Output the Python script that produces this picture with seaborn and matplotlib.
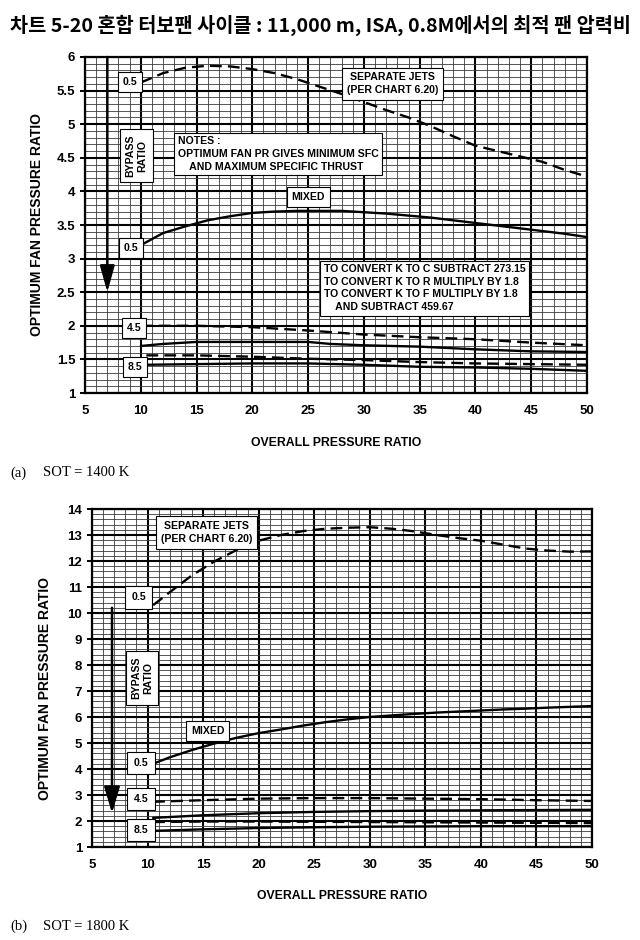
import numpy as np
import pandas as pd
import seaborn as sns
import matplotlib
matplotlib.use("Agg")
import matplotlib.pyplot as plt
from matplotlib.ticker import MultipleLocator, FormatStrFormatter

# ---------------- data ----------------
title_text = "차트 5-20 혼합 터보팬 사이클 : 11,000 m, ISA, 0.8M에서의 최적 팬 압력비"
x_ticks = [5, 10, 15, 20, 25, 30, 35, 40, 45, 50]

# (a) SOT = 1400 K
xa_main = [10, 12, 14, 16, 18, 20, 22, 24, 26, 28, 30, 32, 34, 36, 38, 40, 42, 44, 46, 48, 50]
ya_sep05 = [5.62, 5.76, 5.84, 5.87, 5.86, 5.82, 5.76, 5.67, 5.56, 5.45, 5.33, 5.21, 5.10,
            4.97, 4.82, 4.68, 4.60, 4.52, 4.44, 4.32, 4.22]
ya_mix05 = [3.20, 3.38, 3.48, 3.57, 3.63, 3.68, 3.70, 3.71, 3.71, 3.71, 3.69, 3.67, 3.64,
            3.61, 3.57, 3.53, 3.49, 3.45, 3.41, 3.37, 3.32]
xa_sep45 = [10, 15, 20, 25, 30, 35, 40, 45, 50]
ya_sep45 = [2.00, 2.00, 1.98, 1.93, 1.87, 1.83, 1.80, 1.75, 1.71]
xa_mix45 = [10, 12, 15, 20, 25, 27, 30, 35, 40, 45, 50]
ya_mix45 = [1.70, 1.73, 1.76, 1.76, 1.76, 1.73, 1.71, 1.69, 1.65, 1.62, 1.61]
xa_85 = [10.5, 15, 20, 25, 30, 35, 40, 45, 50]
ya_sep85 = [1.56, 1.56, 1.54, 1.51, 1.49, 1.46, 1.44, 1.43, 1.42]
ya_mix85 = [1.42, 1.43, 1.44, 1.44, 1.42, 1.39, 1.38, 1.36, 1.33]

# (b) SOT = 1800 K
xb_main = [10.5, 12, 14, 16, 18, 20, 22, 24, 26, 28, 30, 32, 34, 36, 38, 40, 42, 44, 46, 48, 50]
yb_sep05 = [10.3, 10.8, 11.45, 11.98, 12.42, 12.78, 13.0, 13.15, 13.24, 13.28, 13.30, 13.24,
            13.14, 13.0, 12.88, 12.78, 12.63, 12.48, 12.40, 12.36, 12.37]
yb_mix05 = [4.20, 4.45, 4.73, 4.98, 5.20, 5.38, 5.52, 5.67, 5.80, 5.91, 6.00, 6.06, 6.12,
            6.17, 6.21, 6.25, 6.29, 6.32, 6.36, 6.39, 6.42]
xb_low = [10.5, 15, 20, 25, 30, 35, 40, 45, 50]
yb_sep45 = [2.74, 2.80, 2.86, 2.88, 2.88, 2.86, 2.84, 2.80, 2.77]
yb_mix45 = [2.12, 2.22, 2.30, 2.35, 2.38, 2.40, 2.41, 2.42, 2.43]
yb_sep85 = [1.96, 1.98, 1.98, 1.97, 1.96, 1.95, 1.94, 1.93, 1.92]
yb_mix85 = [1.62, 1.68, 1.73, 1.76, 1.78, 1.79, 1.80, 1.80, 1.80]

# ---------------- style ----------------
sns.set_theme(style="white")
plt.rcParams['font.family'] = ['Liberation Sans', 'DejaVu Sans']

fig = plt.figure(figsize=(6.4, 9.4), dpi=100)
ax1 = fig.add_axes([85 / 640, 1 - 393 / 940, 502 / 640, 336 / 940])
ax2 = fig.add_axes([92 / 640, 1 - 847 / 940, 500 / 640, 338 / 940])

FS = 7.6
box_kw = dict(boxstyle="square,pad=0.45", fc="white", ec="black", lw=0.8)


def draw_line(ax, x, y, dashed):
    df = pd.DataFrame({"x": x, "y": y})
    kw = dict(color="black", lw=1.7, zorder=4)
    if dashed:
        kw["linestyle"] = (0, (5, 2.6))
    sns.lineplot(data=df, x="x", y="y", ax=ax, **kw)


def style_axes(ax, ymin, ymax, ymajor, yminor, yfmt, xlab_y, ylab_x, ylab_y):
    ax.set_xlim(5, 50)
    ax.set_ylim(ymin, ymax)
    ax.set_xticks(x_ticks)
    ax.xaxis.set_minor_locator(MultipleLocator(1))
    ax.yaxis.set_major_locator(MultipleLocator(ymajor))
    ax.yaxis.set_minor_locator(MultipleLocator(yminor))
    ax.yaxis.set_major_formatter(FormatStrFormatter(yfmt))
    ax.grid(which="major", color="black", lw=1.5, zorder=1)
    ax.grid(which="minor", color="#3a3a3a", lw=0.6, zorder=1)
    ax.set_axisbelow(True)
    for s in ax.spines.values():
        s.set_color("black")
        s.set_linewidth(1.6)
    ax.tick_params(axis="x", which="major", length=0, pad=9, labelsize=9.5, colors="black")
    ax.tick_params(axis="y", which="major", length=3.6, width=1.4, pad=3.5,
                   labelsize=9.5, colors="black", left=True)
    ax.tick_params(which="minor", length=0)
    for lab in ax.get_xticklabels() + ax.get_yticklabels():
        lab.set_fontweight("bold")
    ax.set_xlabel("OVERALL PRESSURE RATIO", fontsize=8.8, fontweight="bold", color="black")
    ax.xaxis.set_label_coords(0.5, xlab_y)
    ax.set_ylabel("OPTIMUM FAN PRESSURE RATIO", fontsize=10, fontweight="bold", color="black")
    ax.yaxis.set_label_coords(ylab_x, ylab_y)


def label(ax, x, y, s, rot=0, ha="center", pad=0.45, ls=1.35):
    kw = dict(box_kw)
    kw["boxstyle"] = "square,pad=%g" % pad
    ax.text(x, y, s, fontsize=FS, fontweight="bold", ha=ha, va="center", rotation=rot,
            bbox=kw, zorder=6, linespacing=ls, color="black")


# ---------------- (a) ----------------
style_axes(ax1, 1, 6, 0.5, 0.1, "%g", -0.131, -0.082, 0.5)
draw_line(ax1, xa_main, ya_sep05, True)
draw_line(ax1, xa_main, ya_mix05, False)
draw_line(ax1, xa_sep45, ya_sep45, True)
draw_line(ax1, xa_mix45, ya_mix45, False)
draw_line(ax1, xa_85, ya_sep85, True)
draw_line(ax1, xa_85, ya_mix85, False)

ax1.annotate("", xy=(7, 2.5), xytext=(7, 6.0),
             arrowprops=dict(arrowstyle="-|>,head_length=1.0,head_width=0.28",
                             color="black", lw=1.8, mutation_scale=16, shrinkA=0, shrinkB=0),
             zorder=5)

label(ax1, 9.0, 5.63, "0.5")
label(ax1, 32.6, 5.6, "SEPARATE JETS\n(PER CHART 6.20)", ls=1.4)
label(ax1, 9.6, 4.53, "BYPASS\nRATIO", rot=90, ls=1.25, pad=0.5)
label(ax1, 13.3, 4.556, "NOTES :\nOPTIMUM FAN PR GIVES MINIMUM SFC\n    AND MAXIMUM SPECIFIC THRUST",
      ha="left", pad=0.35, ls=1.33)
label(ax1, 25.0, 3.92, "MIXED")
label(ax1, 9.1, 3.16, "0.5")
label(ax1, 26.43, 2.56, "TO CONVERT K TO C SUBTRACT 273.15\nTO CONVERT K TO R MULTIPLY BY 1.8\n"
      "TO CONVERT K TO F MULTIPLY BY 1.8\n    AND SUBTRACT 459.67", ha="left", pad=0.35, ls=1.33)
label(ax1, 9.4, 1.97, "4.5")
label(ax1, 9.5, 1.39, "8.5")

# ---------------- (b) ----------------
style_axes(ax2, 1, 14, 1, 0.2, "%g", -0.127, -0.08, 0.47)
draw_line(ax2, xb_main, yb_sep05, True)
draw_line(ax2, xb_main, yb_mix05, False)
draw_line(ax2, xb_low, yb_sep45, True)
draw_line(ax2, xb_low, yb_mix45, False)
draw_line(ax2, xb_low, yb_sep85, True)
draw_line(ax2, xb_low, yb_mix85, False)

ax2.annotate("", xy=(6.8, 2.3), xytext=(6.8, 10.2),
             arrowprops=dict(arrowstyle="-|>,head_length=1.0,head_width=0.3",
                             color="black", lw=1.8, mutation_scale=16, shrinkA=0, shrinkB=0),
             zorder=5)

label(ax2, 15.3, 13.1, "SEPARATE JETS\n(PER CHART 6.20)", ls=1.4)
label(ax2, 9.2, 10.6, "0.5", pad=0.6)
label(ax2, 9.5, 7.5, "BYPASS\nRATIO", rot=90, ls=1.25, pad=0.5)
label(ax2, 15.4, 5.46, "MIXED")
label(ax2, 9.4, 4.23, "0.5", pad=0.6)
label(ax2, 9.4, 2.85, "4.5", pad=0.6)
label(ax2, 9.4, 1.65, "8.5", pad=0.6)

# ---------------- figure texts ----------------
fig.text(10 / 640, 1 - 25 / 940, title_text, ha="left", va="center", fontsize=14.2,
         fontweight="bold", family=["Noto Sans CJK KR", "DejaVu Sans"], color="black")
for yy, tag, sot in [(473, "(a)", "SOT = 1400 K"), (926, "(b)", "SOT = 1800 K")]:
    fig.text(10 / 640, 1 - yy / 940, tag, ha="left", va="center", fontsize=10.5,
             family="Liberation Serif", color="black")
    fig.text(43 / 640, 1 - yy / 940, sot, ha="left", va="center", fontsize=10.5,
             family="Liberation Serif", color="black")

fig.savefig("out.png", dpi=100)
